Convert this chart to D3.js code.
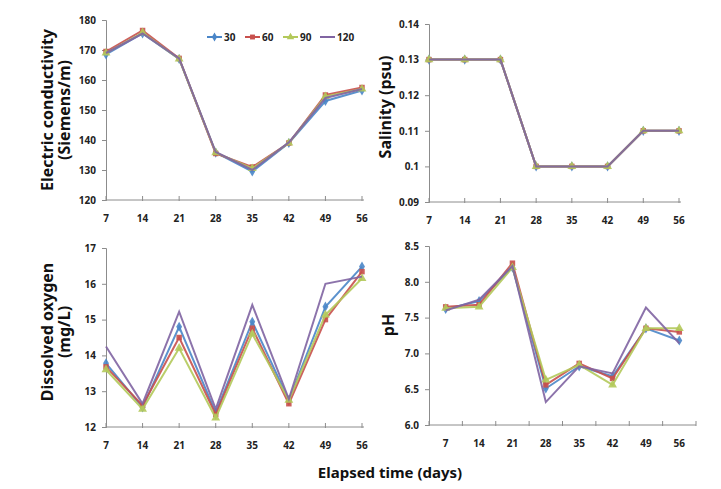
<!DOCTYPE html>
<html><head><meta charset="utf-8">
<script src="https://cdn.jsdelivr.net/npm/d3@7"></script>
<style>
body{margin:0;background:#fff;}
text{font-family:"Noto Sans","DejaVu Sans",sans-serif;}
</style></head>
<body><svg id="c" width="721" height="489"></svg>
<script>
const days = [7, 14, 21, 28, 35, 42, 49, 56];
const seriesNames = ["30", "60", "90", "120"];
const seriesColors = ["#4a86c8", "#c8504d", "#b3c95a", "#8064a2"];
const seriesMarkers = ["diamond", "square", "triangle", "none"];

const ecTicks = [120, 130, 140, 150, 160, 170, 180];
const ec30  = [168.5, 175.5, 167, 135.8, 129.5, 139, 153, 156.5];
const ec60  = [169.5, 176.5, 167.2, 135.5, 131, 139, 155, 157.5];
const ec90  = [169, 175.8, 167, 135.8, 130.5, 139, 154.5, 157];
const ec120 = [169, 175.5, 167.2, 136, 130, 139.2, 154, 157];

const salTicks = [0.09, 0.10, 0.11, 0.12, 0.13, 0.14];
const salTickLabels = ["0.09", "0.1", "0.11", "0.12", "0.13", "0.14"];
const sal30  = [0.13, 0.13, 0.13, 0.10, 0.10, 0.10, 0.11, 0.11];
const sal60  = [0.13, 0.13, 0.13, 0.10, 0.10, 0.10, 0.11, 0.11];
const sal90  = [0.13, 0.13, 0.13, 0.10, 0.10, 0.10, 0.11, 0.11];
const sal120 = [0.13, 0.13, 0.13, 0.10, 0.10, 0.10, 0.11, 0.11];

const doTicks = [12, 13, 14, 15, 16, 17];
const do30  = [13.78, 12.55, 14.8, 12.4, 14.94, 12.75, 15.36, 16.48];
const do60  = [13.68, 12.6, 14.5, 12.35, 14.76, 12.65, 15.0, 16.34];
const do90  = [13.6, 12.5, 14.2, 12.25, 14.6, 12.75, 15.13, 16.15];
const do120 = [14.25, 12.65, 15.22, 12.5, 15.41, 12.78, 16.0, 16.2];

const phTicks = [6.0, 6.5, 7.0, 7.5, 8.0, 8.5];
const ph30  = [7.62, 7.73, 8.2, 6.51, 6.82, 6.68, 7.35, 7.18];
const ph60  = [7.65, 7.68, 8.26, 6.56, 6.86, 6.65, 7.35, 7.3];
const ph90  = [7.63, 7.65, 8.2, 6.63, 6.84, 6.56, 7.35, 7.35];
const ph120 = [7.6, 7.75, 8.22, 6.32, 6.82, 6.72, 7.64, 7.14];

const svg = d3.select("#c");
const axisColor = "#8c8c8c";

function panel(cfg) {
  const g = svg.append("g");
  let x;
  if (cfg.band) {
    x = d3.scaleBand().domain(days).range([cfg.x0, cfg.x1]);
  } else {
    x = d3.scalePoint().domain(days).range([cfg.x0, cfg.x1]);
  }
  const cx = d => cfg.band ? x(d) + x.bandwidth() / 2 : x(d);
  const y = d3.scaleLinear().domain(cfg.ydom).range([cfg.y1, cfg.y0]);

  const ya = d3.axisLeft(y).tickValues(cfg.yticks).tickSize(4).tickPadding(6)
    .tickFormat((d, i) => cfg.ylabels[i]);
  const yg = g.append("g").attr("transform", `translate(${cfg.x0},0)`).call(ya);
  yg.select(".domain").attr("stroke", axisColor);
  yg.selectAll(".tick line").attr("stroke", axisColor);
  yg.selectAll("text").attr("font-size", 10).attr("font-weight", "bold").attr("fill", "#222");

  const xg = g.append("g").attr("transform", `translate(0,${cfg.y1})`);
  xg.append("line").attr("x1", cfg.x0).attr("x2", cfg.axEnd).attr("stroke", axisColor);
  const tickPos = cfg.band
    ? days.map((d, i) => x(d)).concat([cfg.x1])
    : days.map(d => x(d));
  xg.selectAll("line.tk").data(tickPos).join("line").attr("class", "tk")
    .attr("x1", d => d).attr("x2", d => d).attr("y1", -4).attr("y2", 1).attr("stroke", axisColor);
  xg.selectAll("text").data(days).join("text")
    .attr("x", d => cx(d)).attr("y", 22).attr("text-anchor", "middle")
    .attr("font-size", 10).attr("font-weight", "bold").attr("fill", "#222").text(d => d);

  const line = d3.line().x((v, i) => cx(days[i])).y(v => y(v));
  cfg.series.forEach((vals, si) => {
    g.append("path").datum(vals).attr("d", line).attr("fill", "none")
      .attr("stroke", seriesColors[si]).attr("stroke-width", 2).attr("stroke-opacity", 0.9);
    const m = seriesMarkers[si];
    if (m !== "none") {
      const sym = m === "diamond" ? d3.symbolDiamond : m === "square" ? d3.symbolSquare : d3.symbolTriangle;
      g.selectAll(null).data(vals).join("path")
        .attr("d", d3.symbol().type(sym).size(m === "triangle" ? 34 : 30))
        .attr("transform", (v, i) => `translate(${cx(days[i])},${y(v)})`)
        .attr("fill", seriesColors[si]).attr("fill-opacity", 0.9);
    }
  });

  const tg = g.append("g").attr("transform", `translate(${cfg.tx},${cfg.ty}) rotate(-90)`);
  cfg.title.forEach((t, i) => {
    tg.append("text").attr("x", 0).attr("y", i * 17).attr("text-anchor", "middle")
      .attr("font-size", 16).attr("font-weight", "bold").attr("fill", "#111").text(t);
  });
}

panel({x0: 106, x1: 362, axEnd: 364, y0: 20, y1: 200, ydom: [120, 180], yticks: ecTicks,
  ylabels: ecTicks.map(String), series: [ec30, ec60, ec90, ec120],
  title: ["Electric conductivity", "(Siemens/m)"], tx: 53, ty: 110});
panel({x0: 429, x1: 679, axEnd: 681, y0: 24, y1: 202, ydom: [0.09, 0.14], yticks: salTicks,
  ylabels: salTickLabels, series: [sal30, sal60, sal90, sal120],
  title: ["Salinity (psu)"], tx: 391, ty: 107});
panel({x0: 106, x1: 362, axEnd: 364, y0: 248, y1: 427, ydom: [12, 17], yticks: doTicks,
  ylabels: doTicks.map(String), series: [do30, do60, do90, do120],
  title: ["Dissolved oxygen", "(mg/L)"], tx: 53, ty: 332});
panel({x0: 429, x1: 696, axEnd: 696, y0: 246, y1: 425, ydom: [6, 8.5], yticks: phTicks,
  ylabels: phTicks.map(d => d.toFixed(1)), series: [ph30, ph60, ph90, ph120], band: true,
  title: ["pH"], tx: 394, ty: 325});

const lg = svg.append("g");
const lx = [207, 245, 283, 320];
seriesNames.forEach((n, i) => {
  const gx = lx[i];
  lg.append("line").attr("x1", gx).attr("x2", gx + 15).attr("y1", 37).attr("y2", 37)
    .attr("stroke", seriesColors[i]).attr("stroke-width", 2);
  const m = seriesMarkers[i];
  if (m !== "none") {
    const sym = m === "diamond" ? d3.symbolDiamond : m === "square" ? d3.symbolSquare : d3.symbolTriangle;
    lg.append("path").attr("d", d3.symbol().type(sym).size(24))
      .attr("transform", `translate(${gx + 7.5},37)`).attr("fill", seriesColors[i]);
  }
  lg.append("text").attr("x", gx + 17).attr("y", 41).attr("font-size", 10)
    .attr("font-weight", "bold").attr("fill", "#222").text(n);
});

svg.append("text").attr("x", 390).attr("y", 478).attr("text-anchor", "middle")
  .attr("font-size", 15).attr("font-weight", "bold").attr("fill", "#111").text("Elapsed time (days)");
</script>
</body></html>
